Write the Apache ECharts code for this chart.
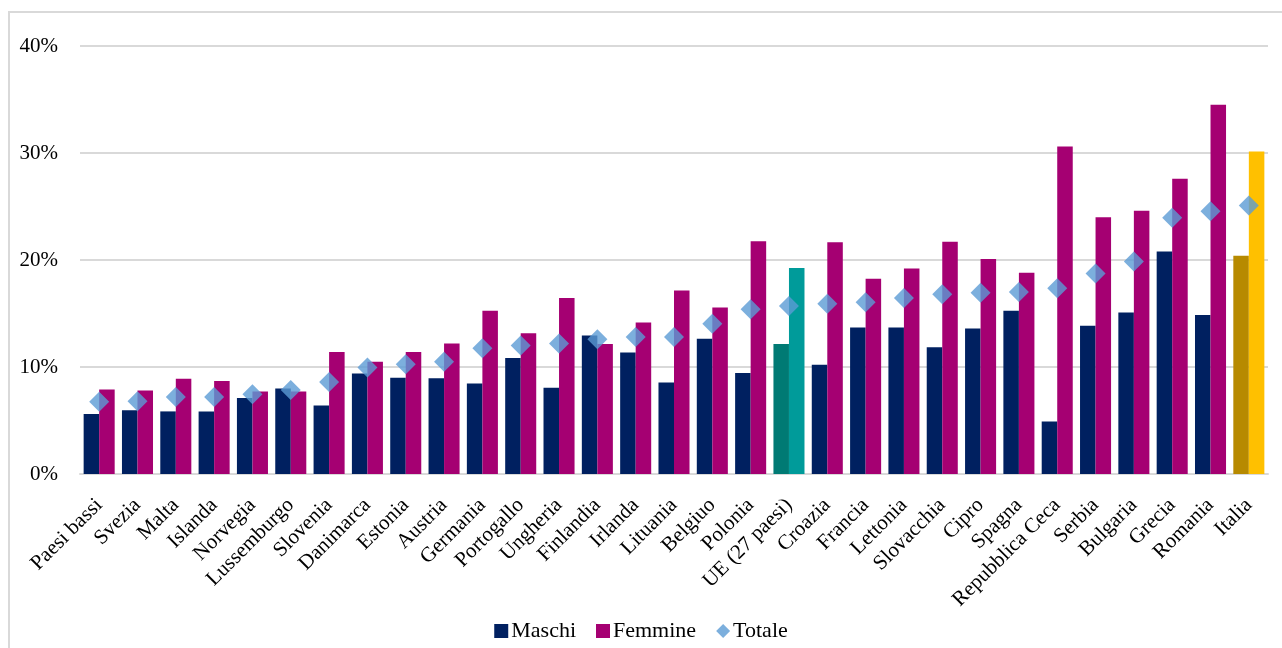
<!DOCTYPE html>
<html>
<head>
<meta charset="utf-8">
<script src="https://cdn.jsdelivr.net/npm/echarts@6/dist/echarts.min.js"></script>
<style>
  html, body { margin: 0; padding: 0; background: #ffffff; }
  #chart { width: 1282px; height: 648px; }
</style>
</head>
<body>
<div id="chart"></div>
<script>
// Paesi, ordinati per valore totale
const categories = [
  'Paesi bassi', 'Svezia', 'Malta', 'Islanda', 'Norvegia', 'Lussemburgo', 'Slovenia',
  'Danimarca', 'Estonia', 'Austria', 'Germania', 'Portogallo', 'Ungheria', 'Finlandia',
  'Irlanda', 'Lituania', 'Belgiuo', 'Polonia', 'UE (27 paesi)', 'Croazia', 'Francia',
  'Lettonia', 'Slovacchia', 'Cipro', 'Spagna', 'Repubblica Ceca', 'Serbia', 'Bulgaria',
  'Grecia', 'Romania', 'Italia'
];

// Valori in percentuale
const maschi = [
  5.6, 5.95, 5.85, 5.85, 7.1, 8.0, 6.4, 9.4, 9.0, 8.95, 8.45, 10.85, 8.05, 12.95,
  11.35, 8.55, 12.65, 9.45, 12.15, 10.2, 13.7, 13.7, 11.85, 13.6, 15.25, 4.9, 13.85,
  15.1, 20.8, 14.85, 20.4
];
const femmine = [
  7.9, 7.8, 8.9, 8.7, 7.7, 7.7, 11.4, 10.5, 11.4, 12.2, 15.25, 13.15, 16.45, 12.15,
  14.15, 17.15, 15.55, 21.75, 19.25, 21.65, 18.25, 19.2, 21.7, 20.1, 18.8, 30.6, 24.0,
  24.6, 27.6, 34.5, 30.15
];
const totale = [
  6.75, 6.8, 7.2, 7.2, 7.45, 7.85, 8.6, 9.95, 10.25, 10.5, 11.75, 12.0, 12.2, 12.6,
  12.8, 12.8, 14.05, 15.4, 15.7, 15.9, 16.05, 16.45, 16.8, 16.95, 17.0, 17.35, 18.75,
  19.85, 23.95, 24.55, 25.1
];
const yTicks = [0, 10, 20, 30, 40];

// Colori: serie standard e barre evidenziate (UE e Italia)
const colMaschi = '#002060';
const colFemmine = '#A50072';
const colTotale = '#5B9BD5';
const highlight = {
  'UE (27 paesi)': { m: '#007A74', f: '#009B9A' },
  'Italia': { m: '#B78A00', f: '#FFC000' }
};

function barData(values, key) {
  return values.map((v, i) => {
    const h = highlight[categories[i]];
    return h ? { value: v, itemStyle: { color: h[key] } } : v;
  });
}

const serif = '"Liberation Serif", "DejaVu Serif", serif';
const chart = echarts.init(document.getElementById('chart'), null, { renderer: 'canvas' });

chart.setOption({
  animation: false,
  backgroundColor: '#ffffff',
  textStyle: { fontFamily: serif, color: '#000000' },
  graphic: [{
    type: 'rect',
    shape: { x: 9, y: 12, width: 1300, height: 660 },
    style: { fill: 'none', stroke: '#d9d9d9', lineWidth: 2 },
    z: -1
  }],
  grid: { left: 80, right: 14, top: 46, bottom: 174, containLabel: false },
  legend: {
    top: 615,
    left: 'center',
    itemWidth: 14,
    itemHeight: 14,
    itemGap: 20,
    textStyle: { fontFamily: serif, fontSize: 22, color: '#000', padding: [0, 0, 0, -2] },
    data: [
      { name: 'Maschi', icon: 'rect' },
      { name: 'Femmine', icon: 'rect' },
      { name: 'Totale', icon: 'diamond' }
    ]
  },
  xAxis: {
    type: 'category',
    data: categories,
    axisLine: { show: true, lineStyle: { color: '#d9d9d9', width: 2 } },
    axisTick: { show: false },
    axisLabel: {
      interval: 0,
      rotate: 45,
      margin: 28,
      fontFamily: serif,
      fontSize: 21,
      color: '#000'
    }
  },
  yAxis: {
    type: 'value',
    min: yTicks[0],
    max: yTicks[yTicks.length - 1],
    interval: 10,
    axisLine: { show: false },
    axisTick: { show: false },
    axisLabel: {
      formatter: '{value}%',
      margin: 22,
      fontFamily: serif,
      fontSize: 21,
      color: '#000'
    },
    splitLine: { lineStyle: { color: '#d9d9d9', width: 2 } }
  },
  series: [
    {
      name: 'Maschi',
      type: 'bar',
      data: barData(maschi, 'm'),
      itemStyle: { color: colMaschi },
      barGap: '0%',
      barCategoryGap: '19%'
    },
    {
      name: 'Femmine',
      type: 'bar',
      data: barData(femmine, 'f'),
      itemStyle: { color: colFemmine },
      barGap: '0%',
      barCategoryGap: '19%'
    },
    {
      name: 'Totale',
      type: 'scatter',
      data: totale,
      symbol: 'diamond',
      symbolSize: 20,
      itemStyle: { color: colTotale },
      z: 5
    }
  ]
});
</script>
</body>
</html>
